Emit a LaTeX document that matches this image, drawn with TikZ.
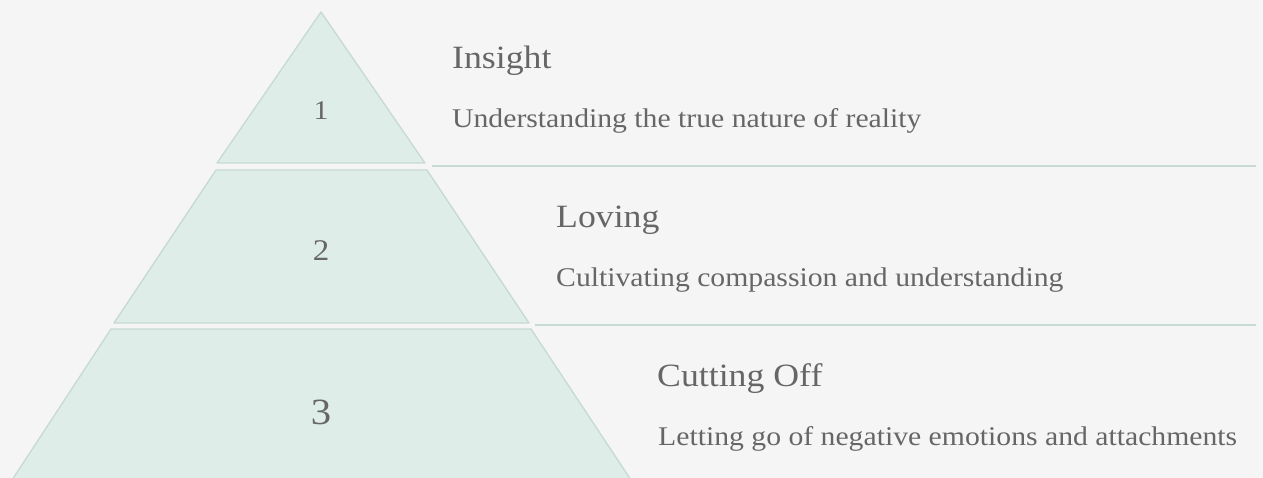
\documentclass[tikz,border=0pt]{standalone}
\usepackage{fontspec}
\setmainfont[FakeStretch=1.1]{Liberation Serif}
\definecolor{bgc}{HTML}{F5F5F5}
\definecolor{layerfill}{HTML}{DEEDE8}
\definecolor{layerline}{HTML}{C6DAD2}
\definecolor{txt}{HTML}{666666}
\tikzset{
  layer/.style={fill=layerfill, draw=layerline, line width=1.3pt, line join=round},
  sepline/.style={draw=layerline, line width=1.8pt},
  numlbl/.style={text=txt, inner sep=0pt},
  ttl/.style={text=txt, anchor=base west, inner sep=0pt, font=\fontsize{32.5}{36}\selectfont},
  dsc/.style={text=txt, anchor=base west, inner sep=0pt, font=\fontsize{27}{30}\selectfont},
}
\begin{document}
\begin{tikzpicture}[x=1pt,y=-1pt]
\fill[bgc] (0,0) rectangle (1263,478);
\useasboundingbox (0,0) rectangle (1263,478);
% layers
\path[layer] (321,12) -- (425,163) -- (217,163) -- cycle;
\path[layer] (216,170) -- (427,170) -- (529,323) -- (114,323) -- cycle;
\path[layer] (111,329) -- (531,329) -- (631,480) -- (12,480) -- cycle;
% numbers
\node[numlbl, font=\fontsize{27}{30}\selectfont] (n1) at (321,111) {1};
\node[numlbl, font=\fontsize{30}{34}\selectfont] (n2) at (321,250.5) {2};
\node[numlbl, font=\fontsize{37}{40}\selectfont] (n3) at (321,412.5) {3};
% separators
\coordinate (s1a) at (432,166);
\coordinate (s1b) at (1256,166);
\coordinate (s2a) at (535,325);
\coordinate (s2b) at (1256,325);
\draw[sepline] (s1a) -- (s1b);
\draw[sepline] (s2a) -- (s2b);
% texts
\node[ttl] (t1) at (452,69) {Insight};
\node[dsc] (d1) at (452,128) {Understanding the true nature of reality};
\node[ttl] (t2) at (556,228) {Loving};
\node[dsc] (d2) at (556,287) {Cultivating compassion and understanding};
\node[ttl] (t3) at (657,386) {Cutting Off};
\node[dsc] (d3) at (658,445) {Letting go of negative emotions and attachments};
\end{tikzpicture}
\end{document}
